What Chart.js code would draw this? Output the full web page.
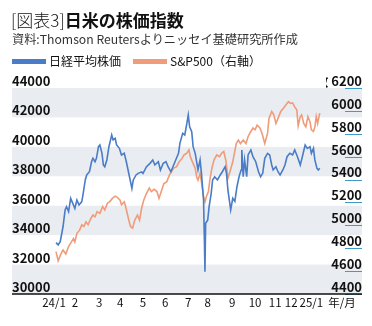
<!DOCTYPE html>
<html>
<head>
<meta charset="utf-8">
<script src="https://cdn.jsdelivr.net/npm/chart.js@4.4.1/dist/chart.umd.min.js"></script>
<style>
  html, body { margin: 0; padding: 0; background: #fff; }
  #wrap { position: relative; width: 372px; height: 326px; overflow: hidden; }
  #chart { position: absolute; left: 0; top: 0; }
  .txt { position: absolute; font-family: 'Noto Sans CJK JP', sans-serif; color: #111; white-space: nowrap; }
  #title { left: 11px; top: 8px; font-size: 17px; line-height: 24px; }
  #title .lt { font-weight: 300; }
  #title b { font-weight: 700; }
  #sub { left: 12px; top: 30px; font-size: 12.2px; line-height: 18px; color: #333; }
  #legend { left: 12px; top: 52px; font-size: 12px; line-height: 18px; }
  #legend span.box { display: inline-block; width: 34px; height: 5px; vertical-align: middle; margin-right: 3px; position: relative; top: -1px; }
  #legend span.item { margin-right: 12px; }
</style>
</head>
<body>
<div id="wrap">
  <canvas id="chart" width="372" height="326"></canvas>
  <div class="txt" id="title"><span class="lt">[図表3]</span><b>日米の株価指数</b></div>
  <div class="txt" id="sub">資料:Thomson Reutersよりニッセイ基礎研究所作成</div>
  <div class="txt" id="legend"><span class="item"><span class="box" style="background:#4a7cc7"></span>日経平均株価</span><span class="item"><span class="box" style="background:#f09b79"></span>S&amp;P500（右軸）</span></div>
</div>
<script>
'use strict';

/* ── Data (days since 2024-01-01) ───────────────────────── */
const nikkeiDays = [3, 6, 9, 13, 16, 18, 21, 24, 27, 30, 33, 36, 40, 42, 45, 47, 51, 54, 56, 59,
  61, 64, 66, 69, 71, 73, 76, 79, 83, 85, 88, 90, 94, 97, 101, 104, 108, 112, 114, 118,
  121, 126, 128, 133, 138, 142, 145, 150, 153, 157, 161, 164, 168, 171, 175, 179, 181, 185, 188, 191,
  193, 195, 198, 200, 203, 205, 207, 210, 212, 215, 216, 217, 218, 221, 223, 226, 228, 231, 235, 239,
  242, 246, 248, 250, 254, 257, 260, 263, 266, 269, 270, 272, 274, 277, 279, 283, 286, 290, 294, 297,
  300, 303, 307, 310, 313, 315, 319, 322, 325, 329, 332, 335, 339, 343, 346, 350, 354, 357, 361, 364,
  368, 370, 373, 375, 378, 380, 382];
const nikkei = [33490, 33330, 33560, 34570, 35710, 35930, 35600, 36500, 36160, 35820, 36390, 36050, 36280, 36840, 37750, 38090, 38310, 38990, 39220, 38990,
  39220, 40010, 40130, 39560, 38770, 38650, 39110, 40010, 40810, 40470, 40580, 40130, 39900, 39450, 39560, 38990, 38090, 37180, 37750, 38090,
  38200, 38300, 38200, 38650, 38880, 39110, 38770, 38990, 38430, 38880, 38990, 38650, 38310, 38650, 39110, 39560, 40240, 40920, 40810, 41600,
  42170, 41370, 41030, 40010, 39560, 38990, 38430, 39110, 38200, 36390, 34130, 31520, 34810, 35030, 35940, 36840, 37750, 37970, 37750, 38090,
  38310, 38650, 38200, 37070, 35710, 36500, 36300, 37290, 37970, 38430, 39790, 37970, 39110, 37970, 39450, 39790, 39330, 38990, 38310, 37970,
  38200, 39220, 39560, 39450, 38770, 38430, 38650, 38310, 38090, 38430, 38770, 39330, 39560, 39450, 39790, 39330, 38770, 39330, 40130, 39900,
  40010, 39560, 39900, 39110, 38540, 38430, 38540];

const spDays = [3, 6, 10, 13, 17, 21, 24, 28, 30, 33, 37, 40, 43, 46, 49, 53, 56, 59, 62, 66,
  70, 73, 77, 80, 84, 88, 91, 95, 97, 101, 103, 107, 110, 113, 116, 120, 123, 126, 129, 133,
  137, 140, 144, 148, 151, 155, 158, 162, 166, 169, 172, 176, 180, 184, 187, 191, 194, 196, 199, 203,
  205, 207, 210, 212, 215, 217, 219, 222, 224, 227, 230, 234, 238, 241, 244, 247, 250, 253, 257, 260,
  262, 265, 268, 272, 276, 279, 283, 286, 289, 292, 296, 299, 303, 307, 309, 313, 316, 319, 322, 326,
  330, 333, 337, 340, 343, 346, 349, 351, 354, 356, 359, 362, 365, 368, 370, 373, 375, 377, 379, 382];
const sp500 = [4770, 4690, 4750, 4785, 4750, 4815, 4845, 4885, 4855, 4930, 4960, 5005, 4990, 5030, 5005, 5060, 5090, 5075, 5120, 5105,
  5165, 5135, 5195, 5205, 5235, 5255, 5245, 5220, 5180, 5205, 5165, 5060, 4990, 4975, 5045, 5090, 5045, 5150, 5220, 5280,
  5325, 5295, 5315, 5295, 5235, 5310, 5365, 5380, 5440, 5470, 5500, 5510, 5555, 5585, 5615, 5630, 5660, 5600, 5555, 5500,
  5425, 5395, 5455, 5380, 5250, 5205, 5250, 5295, 5395, 5500, 5570, 5615, 5600, 5630, 5645, 5570, 5410, 5470, 5555, 5650,
  5715, 5745, 5715, 5745, 5715, 5775, 5820, 5850, 5835, 5875, 5850, 5805, 5715, 5805, 5935, 5995, 5965, 5890, 5935, 5995,
  6025, 6050, 6080, 6065, 6070, 6035, 6010, 5870, 5950, 5965, 5890, 5860, 5950, 5905, 5835, 5820, 5860, 5950, 5890, 5980];

const tickDays = [0, 30, 65, 95, 128, 160, 193, 221, 256, 289, 318, 341, 370];
const tickLabels = ['24/1', '2', '3', '4', '5', '6', '7', '8', '9', '10', '11', '12', '25/1'];

const BLUE = '#4a7cc7', ORANGE = '#f09b79', BAND = '#e9ecf0';
const FONT = "'Noto Sans CJK JP', sans-serif";

/* ── Bands, axis line, right-axis tick marks ───────────── */
const decor = {
  id: 'decor',
  beforeDraw(chart) {
    const { ctx } = chart, y = chart.scales.y;
    ctx.save();
    ctx.fillStyle = BAND;
    for (let v = 44000; v > 30000; v -= 4000) {
      const t = y.getPixelForValue(v), b = y.getPixelForValue(v - 2000);
      ctx.fillRect(12, t, 350, b - t);
    }
    ctx.restore();
  },
  afterDraw(chart) {
    const { ctx } = chart, y1 = chart.scales.y1, a = chart.chartArea;
    ctx.save();
    ctx.strokeStyle = '#3d9cc4';
    ctx.lineWidth = 1;
    y1.ticks.forEach(t => {
      const py = Math.round(y1.getPixelForValue(t.value)) + 0.5;
      ctx.beginPath();
      ctx.moveTo(345, py);
      ctx.lineTo(362, py);
      ctx.stroke();
    });
    ctx.strokeStyle = '#111';
    ctx.lineWidth = 1.5;
    ctx.beginPath();
    ctx.moveTo(12, a.bottom);
    ctx.lineTo(362, a.bottom);
    ctx.stroke();
    ctx.font = `11.5px ${FONT}`;
    ctx.fillStyle = '#111';
    ctx.textAlign = 'center';
    ctx.textBaseline = 'middle';
    ctx.fillText('年/月', 342, a.bottom + 9);
    ctx.restore();
  }
};

new Chart(document.getElementById('chart'), {
  type: 'line',
  data: {
    datasets: [
      {
        label: '日経平均株価',
        data: nikkeiDays.map((d, i) => ({ x: d, y: nikkei[i] })),
        borderColor: BLUE,
        borderWidth: 1.6,
        pointRadius: 0,
        yAxisID: 'y'
      },
      {
        label: 'S&P500（右軸）',
        data: spDays.map((d, i) => ({ x: d, y: sp500[i] })),
        borderColor: ORANGE,
        borderWidth: 1.6,
        pointRadius: 0,
        yAxisID: 'y1'
      }
    ]
  },
  options: {
    responsive: false,
    animation: false,
    devicePixelRatio: 1,
    layout: { padding: { left: 12, right: 10, top: 88, bottom: 0 } },
    plugins: { legend: { display: false }, tooltip: { enabled: false } },
    scales: {
      x: {
        type: 'linear',
        min: -1.4,
        max: 391,
        grid: { display: false, drawTicks: false },
        border: { display: false },
        afterBuildTicks: s => { s.ticks = tickDays.map(v => ({ value: v })); },
        afterFit: s => { s.height = 32; },
        ticks: {
          autoSkip: false,
          maxRotation: 0,
          padding: 2,
          color: '#111',
          font: { family: FONT, size: 11.5 },
          callback: (v, i) => tickLabels[i]
        }
      },
      y: {
        position: 'left',
        min: 30000,
        max: 44000,
        grid: { display: false, drawTicks: false },
        border: { display: false },
        afterFit: s => { s.width = 41; },
        ticks: {
          stepSize: 2000,
          crossAlign: 'far',
          labelOffset: -7,
          color: '#111',
          font: { family: FONT, size: 13, weight: 'bold' },
          callback: v => (v === 44000 ? v + ' 円' : String(v))
        }
      },
      y1: {
        position: 'right',
        min: 4400,
        max: 6200,
        grid: { display: false, drawTicks: false },
        border: { display: false },
        afterFit: s => { s.width = 36; },
        ticks: {
          stepSize: 200,
          crossAlign: 'far',
          labelOffset: -7,
          color: '#111',
          font: { family: FONT, size: 13, weight: 'bold' },
          callback: v => (v === 6200 ? '指数 ' + v : String(v))
        }
      }
    }
  },
  plugins: [decor]
});
</script>
</body>
</html>
